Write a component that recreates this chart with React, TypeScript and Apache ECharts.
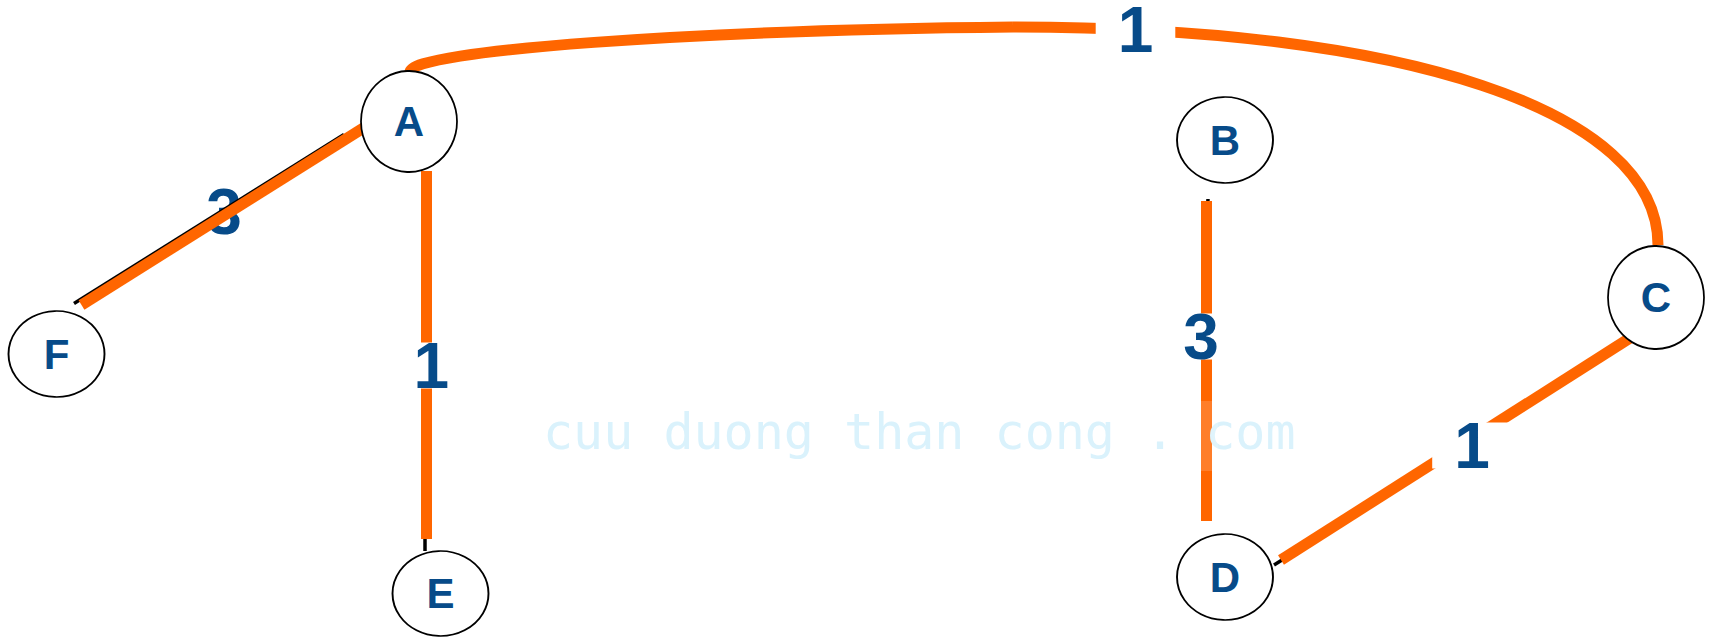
import React, { useEffect, useRef } from "react";
import * as echarts from "echarts";

// ---- data ----
const nodeNames = ["A", "B", "C", "D", "E", "F"];
const nodeX = [409, 1225, 1656, 1225, 440.5, 56.5];
const nodeY = [121.5, 140, 297.5, 577, 593.5, 354];

// highlighted (orange) straight edges: [x1, y1, x2, y2]
const edgeNames = ["F-A", "A-E", "B-D", "D-C"];
const orangeEdges = [
  [81.5, 305, 365, 127],
  [426, 171, 426, 539],
  [1206, 201, 1206, 521],
  [1281, 560, 1631.5, 337],
];
// original black edges visible underneath
const blackEdges = [
  [74, 303.5, 344, 134.5],
  [425, 530, 425, 551],
  [1208, 199, 1207, 215],
  [1274, 565, 1290, 555],
];
// curved edge A-C: two cubic segments, control points
const curveCtrlX = [410, 410, 700, 1013, 1403, 1658, 1658];
const curveCtrlY = [72, 50, 30, 27, 27, 110, 245];

// edge weights and label anchor points
const weightText = ["1", "1", "3", "1"];
const weightX = [1135.5, 431.4, 1201, 1472];
const weightY = [29.7, 365.5, 336.5, 445.5];
const plainWeightText = ["3"];
const plainWeightX = [224];
const plainWeightY = [211.5];

const watermarkText = "cuu duong than cong . com";

// ---- styles ----
const ORANGE = "#FF6600";
const BLUE = "#074B89";
const nodeHeights: Record<string, number> = { A: 101, B: 86, C: 103, D: 86, E: 85, F: 86 };

export default function App() {
  const ref = useRef<HTMLDivElement>(null);
  useEffect(() => {
    if (!ref.current) return;
    const chart = echarts.init(ref.current, null, { renderer: "svg" });
    const seg = (e: number[]) => ({ coords: [[e[0], e[1]], [e[2], e[3]]] });
    const curveFlat: number[] = [];
    curveCtrlX.forEach((x, i) => curveFlat.push(x, curveCtrlY[i]));
    const labelFont = '"Liberation Sans", Arial, sans-serif';
    const option = {
      animation: false,
      backgroundColor: "#ffffff",
      grid: { left: 0, top: 0, right: 0, bottom: 0 },
      xAxis: { type: "value", min: 0, max: 1709, show: false },
      yAxis: { type: "value", min: 0, max: 637, inverse: true, show: false },
      graphic: [
        {
          type: "text",
          x: 543,
          y: 432,
          z: 100,
          silent: true,
          style: {
            text: watermarkText,
            font: '50px "DejaVu Sans Mono"',
            fill: "#DAF2FC",
            align: "left",
            verticalAlign: "middle",
          },
        },
        {
          type: "rect",
          z: 100,
          silent: true,
          shape: { x: 1194, y: 401, width: 24, height: 70 },
          style: { fill: "rgba(255,255,255,0.16)" },
        },
      ],
      series: [
        {
          type: "scatter",
          z: 1,
          symbolSize: 1,
          itemStyle: { color: "rgba(0,0,0,0)", opacity: 1 },
          data: plainWeightX.map((x, i) => ({ value: [x, plainWeightY[i]], name: plainWeightText[i] })),
          label: {
            show: true,
            position: "inside",
            formatter: (p: any) => p.name,
            fontFamily: labelFont,
            fontWeight: "bold",
            fontSize: 64,
            lineHeight: 46,
            color: BLUE,
          },
        },
        {
          type: "lines",
          coordinateSystem: "cartesian2d",
          z: 2,
          lineStyle: { color: "#000000", width: 3.5, opacity: 1, curveness: 0 },
          data: blackEdges.map(seg),
        },
        {
          type: "lines",
          coordinateSystem: "cartesian2d",
          z: 3,
          lineStyle: { color: ORANGE, width: 11, opacity: 1, curveness: 0, cap: "butt" },
          data: orangeEdges.map((e, i) => ({ ...seg(e), name: edgeNames[i] })),
        },
        {
          type: "custom",
          coordinateSystem: "cartesian2d",
          z: 3,
          silent: true,
          data: [curveFlat],
          renderItem: (_params: any, api: any) => {
            const pts: number[][] = [];
            for (let i = 0; i < curveCtrlX.length; i++) {
              pts.push(api.coord([api.value(2 * i), api.value(2 * i + 1)]));
            }
            const style = { stroke: ORANGE, lineWidth: 11, fill: null, lineCap: "butt" };
            return {
              type: "group",
              children: [
                {
                  type: "bezierCurve",
                  shape: {
                    x1: pts[0][0], y1: pts[0][1],
                    cpx1: pts[1][0], cpy1: pts[1][1],
                    cpx2: pts[2][0], cpy2: pts[2][1],
                    x2: pts[3][0], y2: pts[3][1],
                  },
                  style,
                },
                {
                  type: "bezierCurve",
                  shape: {
                    x1: pts[3][0], y1: pts[3][1],
                    cpx1: pts[4][0], cpy1: pts[4][1],
                    cpx2: pts[5][0], cpy2: pts[5][1],
                    x2: pts[6][0], y2: pts[6][1],
                  },
                  style,
                },
              ],
            };
          },
        },
        {
          type: "scatter",
          z: 4,
          data: nodeNames.map((n, i) => ({
            value: [nodeX[i], nodeY[i]],
            name: n,
            symbolSize: [96, nodeHeights[n]],
          })),
          itemStyle: { color: "#ffffff", borderColor: "#000000", borderWidth: 1.8, opacity: 1 },
          label: {
            show: true,
            position: "inside",
            formatter: (p: any) => p.name,
            fontFamily: labelFont,
            fontWeight: "bold",
            fontSize: 42,
            color: BLUE,
          },
        },
        {
          type: "scatter",
          z: 5,
          symbolSize: 1,
          itemStyle: { color: "rgba(0,0,0,0)", opacity: 1 },
          data: weightX.map((x, i) => ({ value: [x, weightY[i]], name: weightText[i] })),
          label: {
            show: true,
            position: "inside",
            formatter: (p: any) => p.name,
            fontFamily: labelFont,
            fontWeight: "bold",
            fontSize: 64,
            lineHeight: 46,
            padding: [0, 22],
            backgroundColor: "#ffffff",
            color: BLUE,
          },
        },
      ],
    };
    chart.setOption(option as any);
    return () => chart.dispose();
  }, []);
  return (
    <div
      ref={ref}
      style={{ position: "fixed", left: 0, top: 0, width: 1709, height: 637, background: "#fff" }}
    />
  );
}
